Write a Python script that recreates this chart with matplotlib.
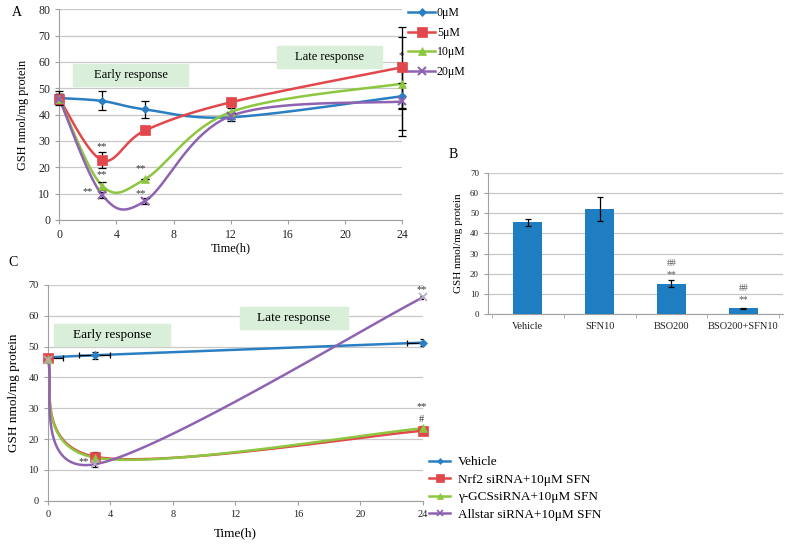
import numpy as np
import matplotlib
matplotlib.use("Agg")
import matplotlib.pyplot as plt
from matplotlib.lines import Line2D
from matplotlib.patches import Rectangle

plt.rcParams['font.family'] = ['Liberation Serif', 'DejaVu Serif']

# ---------------- data ----------------
# Panel A
time_a = [0, 3, 6, 12, 24]
labels_a = ['0μM', '5μM', '10μM', '20μM']
a_0uM = [46.3, 45.2, 42.0, 39.0, 47.0]
a_0uM_err = [2.5, 3.6, 3.2, 1.5, 5.0]
a_5uM = [46.0, 22.7, 34.0, 44.7, 58.0]
a_5uM_err = [2.0, 3.0, 0.0, 0.0, 15.4]
a_10uM = [46.0, 13.0, 15.5, 41.0, 51.8]
a_10uM_err = [2.0, 1.5, 0.0, 1.5, 17.6]
a_20uM = [46.0, 9.5, 7.2, 39.5, 45.0]
a_20uM_err = [2.0, 1.2, 1.0, 1.0, 13.0]

# Panel B
cats_b = ['Vehicle', 'SFN10', 'BSO200', 'BSO200+SFN10']
vals_b = [45.5, 52.0, 15.0, 2.8]
errs_b = [1.6, 6.0, 1.8, 0.3]

# Panel C
time_c = [0, 3, 24]
labels_c = ['Vehicle', 'Nrf2 siRNA+10μM SFN', 'γ-GCSsiRNA+10μM SFN', 'Allstar siRNA+10μM SFN']
c_vehicle = [46.3, 47.2, 51.3]
c_vehicle_err = [0.5, 1.2, 1.2]
c_nrf2 = [46.3, 14.3, 22.7]
c_nrf2_err = [0.5, 1.6, 0.8]
c_gcs = [46.0, 14.0, 23.5]
c_gcs_err = [0.5, 1.3, 0.8]
c_allstar = [45.5, 11.8, 66.0]
c_allstar_err = [0.5, 1.0, 0.5]

colors = ['#2A7EC3', '#E2474B', '#8DC63F', '#8E63B1']
markers = ['D', 's', '^', 'x']
msizes = [4, 7, 6, 6]
bar_color = '#1F7DC1'
box_color = '#D9EFDA'
grid_color = '#C8C8C8'


def smooth(x, y, n=40):
    """Excel-like smoothed line (Catmull-Rom Bezier) through the data points."""
    pts = np.column_stack([x, y]).astype(float)
    P = np.vstack([pts[0], pts, pts[-1]])
    out = []
    t = np.linspace(0, 1, n)[:, None]
    for i in range(1, len(P) - 2):
        p0, p1, p2, p3 = P[i - 1], P[i], P[i + 1], P[i + 2]
        c1 = p1 + (p2 - p0) / 6.0
        c2 = p2 - (p3 - p1) / 6.0
        b = (1 - t) ** 3 * p1 + 3 * (1 - t) ** 2 * t * c1 + 3 * (1 - t) * t ** 2 * c2 + t ** 3 * p2
        out.append(b)
    out = np.vstack(out)
    return out[:, 0], out[:, 1]


def style_axes(ax, tick_size):
    ax.spines['top'].set_visible(False)
    ax.spines['right'].set_visible(False)
    ax.spines['left'].set_color('#A0A0A0')
    ax.spines['bottom'].set_color('#A0A0A0')
    ax.yaxis.grid(True, color=grid_color, linewidth=0.9)
    ax.set_axisbelow(True)
    ax.tick_params(axis='both', colors='#A0A0A0', labelcolor='#222222', labelsize=tick_size, length=3, width=0.8)


fig = plt.figure(figsize=(7.86, 5.46), dpi=100)
W, H = 786.0, 546.0


def axes_px(l, t, r, b):
    return fig.add_axes([l / W, 1 - b / H, (r - l) / W, (b - t) / H])


# ---------------- Panel A ----------------
axA = axes_px(59.3, 9.3, 402.3, 220.0)
style_axes(axA, 8.5)
series_a = [(a_0uM, a_0uM_err), (a_5uM, a_5uM_err), (a_10uM, a_10uM_err), (a_20uM, a_20uM_err)]
handles_a = []
for i, (vals, errs) in enumerate(series_a):
    sx, sy = smooth(time_a, vals)
    axA.plot(sx, sy, color=colors[i], lw=1.8, zorder=3, clip_on=False)
    axA.plot(time_a, vals, ls='none', marker=markers[i], ms=msizes[i], color=colors[i],
             mew=1.5 if markers[i] == 'x' else 0.5, zorder=5, clip_on=False)
    axA.errorbar(time_a, vals, yerr=errs, fmt='none', ecolor='black', elinewidth=0.9,
                 capsize=2.8, capthick=0.9, zorder=4, clip_on=False)
    handles_a.append(Line2D([], [], color=colors[i], lw=1.8, marker=markers[i], ms=msizes[i],
                            mew=1.5 if markers[i] == 'x' else 0.5))
axA.set_xlim(0, 24)
axA.set_ylim(0, 80)
axA.set_xticks(range(0, 25, 4))
axA.set_yticks(range(0, 81, 10))
axA.set_xlabel('Time(h)', fontsize=9, labelpad=1)
axA.set_ylabel('GSH nmol/mg protein', fontsize=8.8, labelpad=7)
# response boxes
axA.add_patch(Rectangle((0.96, 50.9), 8.04, 8.3, color=box_color, zorder=1))
axA.text(4.98, 55.05, 'Early response', ha='center', va='center', fontsize=9, zorder=2)
axA.add_patch(Rectangle((15.2, 57.7), 7.4, 8.3, color=box_color, zorder=1))
axA.text(18.9, 61.85, 'Late response', ha='center', va='center', fontsize=9, zorder=2)
# significance marks
for (x, y, s) in [(3, 28.0, '**'), (3, 17.2, '**'), (2.0, 10.8, '**'), (5.7, 19.4, '**'),
                  (5.7, 10.2, '**'), (23.9, 62.5, '*')]:
    axA.text(x, y, s, ha='center', va='center', fontsize=7.5, color='#333333')
fig.legend(handles_a, labels_a, loc='upper left', bbox_to_anchor=(408 / W, 1 - 7 / H),
           frameon=False, fontsize=8.5, handlelength=2.3, handletextpad=0.15,
           labelspacing=0.65, borderpad=0, borderaxespad=0)

# ---------------- Panel B ----------------
axB = axes_px(488, 173, 783, 314)
style_axes(axB, 6.5)
xb = np.arange(len(cats_b))
axB.bar(xb, vals_b, width=0.4, color=bar_color, zorder=3)
axB.errorbar(xb, vals_b, yerr=errs_b, fmt='none', ecolor='black', elinewidth=0.9,
             capsize=2.5, capthick=0.9, zorder=4)
axB.set_xlim(-0.55, 3.55)
axB.set_ylim(0, 70)
axB.set_yticks(range(0, 71, 10))
axB.set_xticks(xb)
axB.set_xticklabels(cats_b, fontsize=7.5)
axB.tick_params(axis='x', length=0, pad=6)
axB.set_xticks([-0.5, 0.5, 1.5, 2.5, 3.5], minor=True)
axB.tick_params(axis='x', which='minor', length=3, colors='#A0A0A0')
axB.set_ylabel('GSH nmol/mg protein', fontsize=8, labelpad=5)
for (x, y, s) in [(2, 25.0, '##'), (2, 19.8, '**'), (3, 12.8, '##'), (3, 7.2, '**')]:
    axB.text(x, y, s, ha='center', va='center', fontsize=7, color='#555555')

# ---------------- Panel C ----------------
axC = axes_px(47.7, 285.0, 423.0, 500.7)
style_axes(axC, 7.5)
series_c = [(c_vehicle, c_vehicle_err), (c_nrf2, c_nrf2_err), (c_gcs, c_gcs_err), (c_allstar, c_allstar_err)]
handles_c = []
for i, (vals, errs) in enumerate(series_c):
    sx, sy = smooth(time_c, vals)
    axC.plot(sx, sy, color=colors[i], lw=1.8, zorder=3, clip_on=False)
    axC.plot(time_c, vals, ls='none', marker=markers[i], ms=msizes[i],
             color=colors[i] if markers[i] != 'x' else '#B8A9C9',
             mew=1.2 if markers[i] == 'x' else 0.5, zorder=5, clip_on=False)
    axC.errorbar(time_c, vals, yerr=errs, xerr=1 if i == 0 else None, fmt='none', ecolor='black',
                 elinewidth=0.9, capsize=2.3, capthick=0.9, zorder=4)
    handles_c.append(Line2D([], [], color=colors[i], lw=1.8, marker=markers[i], ms=msizes[i] - 1,
                            mew=1.2 if markers[i] == 'x' else 0.5))
axC.set_xlim(0, 24)
axC.set_ylim(0, 70)
axC.set_xticks(range(0, 25, 4))
axC.set_yticks(range(0, 71, 10))
axC.set_xlabel('Time(h)', fontsize=9.5, labelpad=6)
axC.set_ylabel('GSH nmol/mg protein', fontsize=9.5, labelpad=6)
axC.add_patch(Rectangle((0.4, 50.2), 7.4, 7.1, color=box_color, zorder=1))
axC.text(4.1, 53.75, 'Early response', ha='center', va='center', fontsize=9.5, zorder=2)
axC.add_patch(Rectangle((12.3, 55.7), 6.9, 7.3, color=box_color, zorder=1))
axC.text(15.75, 59.35, 'Late response', ha='center', va='center', fontsize=9.5, zorder=2)
for (x, y, s) in [(2.3, 12.6, '**'), (23.9, 68.6, '**'), (23.9, 30.6, '**'), (23.9, 26.5, '#')]:
    axC.text(x, y, s, ha='center', va='center', fontsize=7.5, color='#333333')
fig.legend(handles_c, labels_c, loc='upper left', bbox_to_anchor=(429 / W, 1 - 456 / H),
           frameon=False, fontsize=9.5, handlelength=1.6, handletextpad=0.6,
           labelspacing=0.4, borderpad=0, borderaxespad=0)

# panel letters
fig.text(17 / W, 1 - 13 / H, 'A', fontsize=10, ha='center', va='center')
fig.text(453 / W, 1 - 155 / H, 'B', fontsize=10, ha='center', va='center')
fig.text(13 / W, 1 - 262 / H, 'C', fontsize=10, ha='center', va='center')

fig.savefig('out.png', dpi=100, facecolor='white')
